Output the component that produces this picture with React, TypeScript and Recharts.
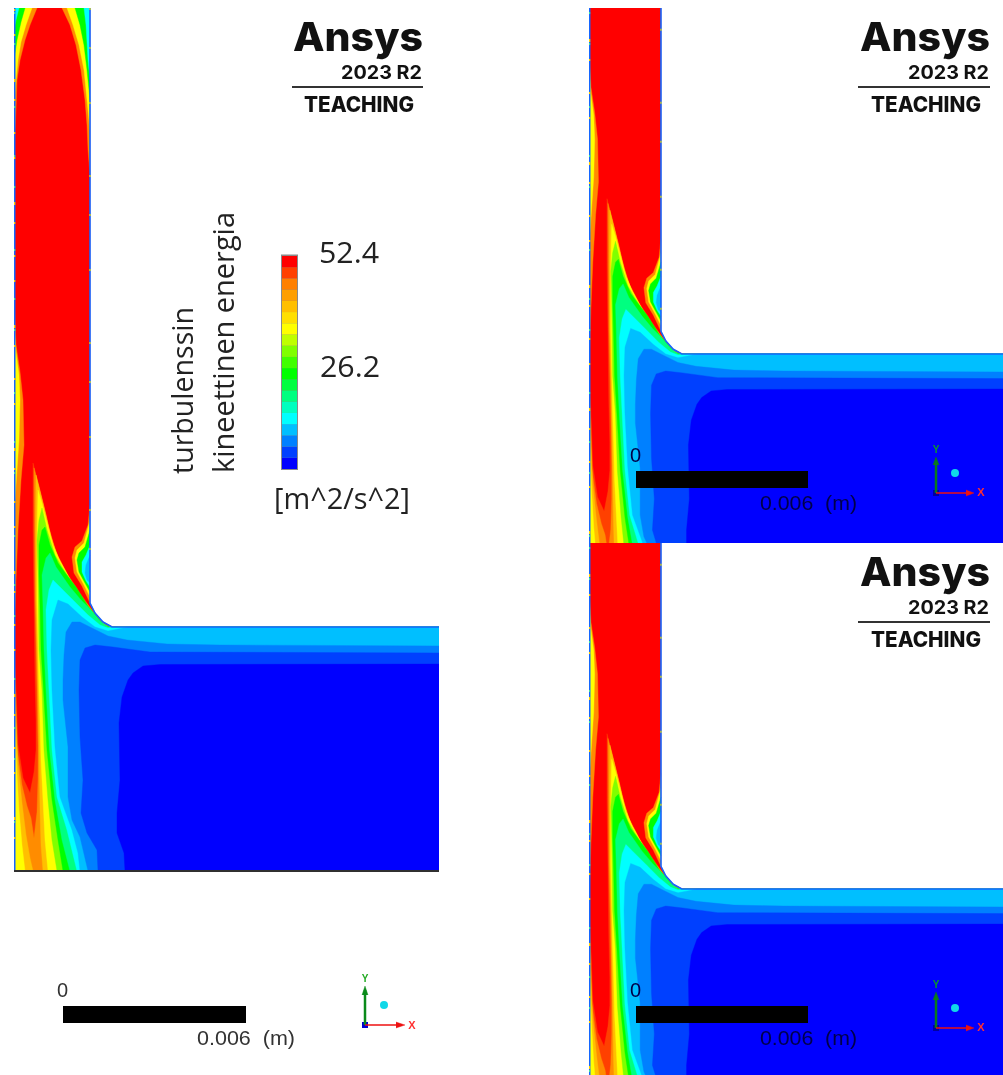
import React from "react";
import { ScatterChart, Scatter, XAxis, YAxis, ReferenceArea } from "recharts";

type Pt = [number, number];
const X_END = 460;

// field outline (read in the left panel's pixel frame)
const fluidDomain: Pt[] = [[14,8],[90,8],[90,603],[95,613],[103,622],[112,626.5],[460,627],[460,872],[14,872]];
const wallEdge: Pt[] = [[14.5,872],[14.5,8]];
const wallRight: Pt[] = [[90,8],[90,603],[95,613],[103,622],[112,627],[460,627]];
const wallRightUpper: Pt[] = [[90,8],[90,603]];
const floorLine: Pt[] = [[14,871],[460,871]];

// contour bands, hottest first
const redOrangeMain: Pt[] = [[14,871],[14,640],[16,690],[18,745],[23,778],[30,793],[34,772],[36,750],[36,720],[35,680],[34,600],[33,530],[33,463],[38,483],[44,507],[48,525],[55,550],[67,573],[80,593],[90,607],[96,616],[104,624],[112,627],[X_END,627],[X_END,871]];
const orangeMain: Pt[] = [[14,871],[14,655],[16,703],[17,748],[22,785],[27,806],[31,818],[34,838],[37,812],[38,780],[38,745],[37,690],[35,600],[34.5,530],[34,468],[39,487],[45,511],[49,528],[56,553],[68,576],[81,596],[91,609],[97,617],[105,625],[113,627],[X_END,627],[X_END,871]];
const amberMain: Pt[] = [[14,871],[14,672],[16,722],[18,765],[22,803],[26,835],[30,858],[33,871],[43,871],[41,845],[40,810],[39.5,780],[39,745],[38,690],[36,600],[35.5,530],[36,475],[41,495],[46,515],[51,537],[58,557],[69,578],[82,598],[92,611],[98,619],[106,626],[113,627],[X_END,627],[X_END,871]];
const yellowMain: Pt[] = [[14,871],[14,690],[15,730],[17,775],[19,810],[22,845],[25,871],[48,871],[45,840],[43,800],[41,760],[40,720],[39,690],[37,600],[37,530],[38,490],[42,503],[47,522],[53,545],[60,561],[71,581],[84,601],[93,613],[100,621],[108,627],[X_END,627],[X_END,871]];
const limeMain: Pt[] = [[57,871],[52,840],[48,800],[44,750],[42,690],[39,650],[38.5,607],[38,573],[37,540],[39,520],[42,508],[47,530],[55,555],[62,567],[73,584],[86,604],[95,615],[102,623],[109,627],[X_END,627],[X_END,871]];
const greenMain: Pt[] = [[63,871],[58,840],[52,800],[47,750],[43.5,690],[41,650],[40,607],[39,573],[39,545],[42,530],[45,527],[50,545],[58,563],[66,574],[76,587],[88,606],[97,617],[104,625],[110,627],[X_END,627],[X_END,871]];
const springMain: Pt[] = [[70,871],[62,840],[55,800],[49.5,750],[46,690],[44,650],[43,607],[42,575],[46,558],[50,553],[56,567],[70,587],[81,600],[91,610],[100,621],[108,627],[112,627],[X_END,627],[X_END,871]];
const cyanMain: Pt[] = [[77,871],[67,830],[57,797],[52,750],[49,690],[47,650],[46,610],[49,590],[53,580],[60,587],[75,602],[88,615],[100,625],[108,628],[118,627],[X_END,627],[X_END,871]];
const skyMain: Pt[] = [[80,871],[78,853],[72,830],[60,797],[55,747],[52,690],[51,650],[52,620],[58,600],[68,604],[82,617],[95,627],[108,631],[118,629],[128,627],[X_END,627],[X_END,871]];
const azureMain: Pt[] = [[88,871],[80,837],[72,820],[68,797],[68,747],[63,700],[63,680],[64,655],[66,632],[72,622],[80,622],[92,628],[108,636],[127,640],[167,644],[220,645],[X_END,646],[X_END,871]];
const blueMain: Pt[] = [[98,871],[97,850],[87,833],[81,813],[83,780],[80,737],[79,690],[80,660],[85,648],[95,645],[113,647],[150,652],[X_END,653],[X_END,871]];
const deepMain: Pt[] = [[125,871],[124,853],[117,833],[117,813],[120,780],[119,723],[122,697],[128,680],[133,673],[143,666],[160,664.5],[X_END,664],[X_END,871]];

// wall pocket above the corner
const pocketOrange: Pt[] = [[90,505],[88,525],[82,541],[75,547],[72,557],[74,573],[82,586],[90,603]];
const pocketYellow: Pt[] = [[90,520],[84,543],[77,550],[75,558],[77,572],[84,585],[90,597]];
const pocketGreen: Pt[] = [[90,530],[85,547],[79,553],[77,560],[79,572],[85,583],[90,592]];
const pocketCyan: Pt[] = [[90,545],[86,555],[82,562],[82,572],[86,581],[90,587]];
const pocketSky: Pt[] = [[90,555],[86,565],[85,573],[87,580],[90,583]];

// inlet corners
const topLeftOrange: Pt[] = [[14,8],[37,8],[30,25],[25,40],[20,60],[17,80],[16,110],[14,150]];
const topLeftYellow: Pt[] = [[14,8],[32,8],[26,25],[21,42],[18,60],[15.5,85],[14,110]];
const topLeftGreen: Pt[] = [[14,8],[25,8],[21,22],[17,40],[14,60]];
const topLeftCyan: Pt[] = [[14,8],[19,8],[16,20],[14,30]];
const topRightOrange: Pt[] = [[90,8],[62,8],[70,25],[76,45],[81,70],[85,100],[87,125],[88,150],[90,175]];
const topRightYellow: Pt[] = [[90,8],[67,8],[73,25],[79,45],[84,70],[87,100],[90,130]];
const topRightGreen: Pt[] = [[90,8],[75,8],[80,25],[84,45],[87,70],[90,100]];
const topRightCyan: Pt[] = [[90,8],[84,8],[86,25],[88,60],[90,80]];

// warm tongue on the left wall
const sideOrange: Pt[] = [[14,300],[16,345],[20,372],[23,400],[24,445],[21,480],[18,530],[16,580],[14,640]];
const sideYellow: Pt[] = [[14,320],[16,352],[19,375],[20,400],[19,440],[17,470],[15,500],[14,520]];

const bandLayers: [string, Pt[][]][] = [
  ["#ff4000", [redOrangeMain]],
  ["#ff8c00", [orangeMain, pocketOrange, topLeftOrange, topRightOrange, sideOrange]],
  ["#ffbf00", [amberMain]],
  ["#ffff00", [yellowMain, pocketYellow, topLeftYellow, topRightYellow, sideYellow]],
  ["#80ff00", [limeMain]],
  ["#00ff00", [greenMain, pocketGreen, topLeftGreen, topRightGreen]],
  ["#00ff80", [springMain]],
  ["#00ffff", [cyanMain, pocketCyan, topLeftCyan, topRightCyan]],
  ["#00bfff", [skyMain, pocketSky]],
  ["#0080ff", [azureMain]],
  ["#0040ff", [blueMain]],
  ["#0000ff", [deepMain]],
];

// colour bar, bottom to top
const legendColors = ["#0000ff","#0040ff","#0080ff","#00bfff","#00ffff","#00ffbf","#00ff80","#00ff40","#00ff00","#40ff00","#80ff00","#bfff00","#ffff00","#ffdf00","#ffbf00","#ff9f00","#ff8000","#ff4000","#ff0000"];
const legendBottom = 469;
const legendTop = 256;
const legendTicks = ["52.4", "26.2"];
const titleLines = ["turbulenssin", "kineettinen energia"];
const unitLabel = "[m^2/s^2]";

const logoOffsets: Pt[] = [[0,0],[567,0],[567,535]];
const scaleBars: { x1: number; x2: number; y1: number; y2: number }[] = [
  { x1: 63, x2: 246, y1: 1006, y2: 1023 },
  { x1: 636, x2: 808, y1: 471, y2: 488 },
  { x1: 636, x2: 808, y1: 1006, y2: 1023 },
];

const toRows = (p: Pt[]) => p.map(([x, y]) => ({ x, y }));
const noMark = () => <g />;

const poly = (key: string, pts: Pt[], fill: string) => (
  <Scatter key={key} data={toRows(pts)} dataKey="y" fill={fill} isAnimationActive={false} legendType="none"
    shape={noMark} line={{ stroke: fill, strokeWidth: 0.4, fill }} />
);
const stroke = (key: string, pts: Pt[], color: string, w: number, dash?: string) => (
  <Scatter key={key} data={toRows(pts)} dataKey="y" fill={color} isAnimationActive={false} legendType="none"
    shape={noMark} line={{ stroke: color, strokeWidth: w, fill: "none", strokeDasharray: dash }} />
);

function FieldPanel({ left, top, width, height, xDomain, yDomain }: { left: number; top: number; width: number; height: number; xDomain: Pt; yDomain: Pt }) {
  return (
    <div style={{ position: "absolute", left, top, width, height, overflow: "hidden" }}>
      <div style={{ filter: "blur(0.7px)" }}>
        <ScatterChart width={width} height={height} margin={{ top: 0, right: 0, bottom: 0, left: 0 }}>
          <XAxis type="number" dataKey="x" domain={xDomain} allowDataOverflow hide />
          <YAxis type="number" dataKey="y" domain={yDomain} allowDataOverflow reversed hide />
          {poly("domain", fluidDomain, "#ff0000")}
          {bandLayers.flatMap(([color, shapes], i) => shapes.map((s, j) => poly(`b${i}-${j}`, s, color)))}
          {stroke("wl", wallEdge, "#1466ff", 2)}
          {stroke("wr", wallRight, "#1466ff", 1.6)}
          {stroke("s1", wallEdge, "#ffd000", 1.5, "2 31 2 17 3 43 2 23")}
          {stroke("s2", wallEdge, "#40e0a0", 1.5, "2 47 2 61 2 29")}
          {stroke("s3", wallRightUpper, "#e8e800", 1.2, "2 37 2 53 2 71")}
          {stroke("floor", floorLine, "#303030", 2)}
        </ScatterChart>
      </div>
    </div>
  );
}

const Logo = ({ dx, dy }: { dx: number; dy: number }) => (
  <g fill="#111" fontFamily="Inter, Roboto, sans-serif">
    <text x={293 + dx} y={51} transform={`translate(0 ${dy})`} fontSize={40} fontWeight={800} textLength={130} lengthAdjust="spacingAndGlyphs">Ansys</text>
    <text x={341 + dx} y={79} transform={`translate(0 ${dy})`} fontSize={19} fontWeight={700} textLength={81} lengthAdjust="spacingAndGlyphs">2023 R2</text>
    <text x={304 + dx} y={112} transform={`translate(0 ${dy})`} fontSize={21} fontWeight={800} textLength={110} lengthAdjust="spacingAndGlyphs">TEACHING</text>
  </g>
);

const Triad = ({ ox, oy, y, x, dot, dim }: { ox: number; oy: number; y: Pt; x: Pt; dot: Pt; dim?: boolean }) => (
  <g>
    <text x={y[0]} y={y[1] + 4} textAnchor="middle" fontSize={10} fontWeight={700} fontFamily="Liberation Sans" fill={dim ? "#0a9a2a" : "#22aa22"}>Y</text>
    <text x={x[0]} y={x[1] + 4} textAnchor="middle" fontSize={11} fontWeight={700} fontFamily="Liberation Sans" fill="#ff3030">X</text>
    <circle cx={dot[0]} cy={dot[1]} r={4} fill="#10d8e8" />
    <rect x={ox - 3} y={oy - 3} width={6} height={6} fill={dim ? "#0000a0" : "#0000d0"} />
  </g>
);

const triadLines: { v: Pt[]; h: Pt[]; vh: Pt[]; hh: Pt[]; vc: string }[] = [
  { v: [[365,1025],[365,990]], h: [[365,1025],[396,1025]], vh: [[362,995],[365,986],[368,995]], hh: [[396,1022],[405,1025],[396,1028]], vc: "#0a8a1a" },
  { v: [[936,493],[936,461]], h: [[936,493],[966,493]], vh: [[933,465],[936,457],[939,465]], hh: [[966,490],[974,493],[966,496]], vc: "#0a7a1a" },
  { v: [[936,1028],[936,996]], h: [[936,1028],[966,1028]], vh: [[933,1000],[936,992],[939,1000]], hh: [[966,1025],[974,1028],[966,1031]], vc: "#0a7a1a" },
];

const sans = "Liberation Sans, Arial, sans-serif";
const humanist = "Open Sans, sans-serif";
const legendStep = (legendBottom - legendTop) / legendColors.length;

export default function App() {
  return (
    <div style={{ position: "absolute", left: 0, top: 0, width: 1003, height: 1075, background: "#fff", overflow: "hidden" }}>
      <FieldPanel left={14} top={8} width={425} height={864} xDomain={[14, 439]} yDomain={[8, 872]} />
      <FieldPanel left={589} top={8} width={414} height={535} xDomain={[14, 451.2]} yDomain={[261.6, 826.6]} />
      <FieldPanel left={589} top={543} width={414} height={532} xDomain={[14, 451.2]} yDomain={[261.6, 823.4]} />
      <div style={{ position: "absolute", left: 0, top: 0, filter: "blur(0.45px)" }}>
        <ScatterChart width={1003} height={1075} margin={{ top: 0, right: 0, bottom: 0, left: 0 }}>
          <XAxis type="number" dataKey="x" domain={[0, 1003]} allowDataOverflow hide />
          <YAxis type="number" dataKey="y" domain={[0, 1075]} allowDataOverflow reversed hide />
          <ReferenceArea x1={281} x2={298} y1={legendTop - 1.5} y2={legendBottom + 1} fill="#8a8a8a" fillOpacity={1} stroke="none" />
          {legendColors.map((c, i) => (
            <ReferenceArea key={c} x1={282} x2={297} y1={legendBottom - (i + 1) * legendStep} y2={legendBottom - i * legendStep} fill={c} fillOpacity={1} stroke="none" />
          ))}
          {scaleBars.map((b) => (
            <ReferenceArea key={`${b.x1}-${b.y1}`} x1={b.x1} x2={b.x2} y1={b.y1} y2={b.y2} fill="#000" fillOpacity={1} stroke="none" />
          ))}
          {logoOffsets.map(([dx, dy]) => stroke(`rule${dx}-${dy}`, [[292 + dx - (dx ? 1 : 0), 87 + dy], [423 + dx, 87 + dy]], "#333", 2))}
          {triadLines.flatMap((t, i) => [
            stroke(`v${i}`, t.v, t.vc, 2.5),
            stroke(`h${i}`, t.h, "#ee1111", 1.5),
            poly(`vh${i}`, t.vh, t.vc),
            poly(`hh${i}`, t.hh, "#ee1111"),
          ])}
          {logoOffsets.map(([dx, dy]) => <Logo key={`${dx}-${dy}`} dx={dx} dy={dy} />)}
          <g fill="#222" fontFamily={humanist}>
            <text x={319} y={263} fontSize={29} textLength={60} lengthAdjust="spacingAndGlyphs">{legendTicks[0]}</text>
            <text x={320} y={377} fontSize={29} textLength={60} lengthAdjust="spacingAndGlyphs">{legendTicks[1]}</text>
            <text x={274} y={509} fontSize={29} textLength={136} lengthAdjust="spacingAndGlyphs">{unitLabel}</text>
            <text transform="translate(193 474) rotate(-90)" fontSize={29} textLength={167} lengthAdjust="spacingAndGlyphs">{titleLines[0]}</text>
            <text transform="translate(234 473) rotate(-90)" fontSize={29} textLength={261} lengthAdjust="spacingAndGlyphs">{titleLines[1]}</text>
          </g>
          <g fontFamily={sans} fontSize={20}>
            <text x={57} y={997} fill="#333">0</text>
            <text x={197} y={1045} fill="#333" textLength={98} lengthAdjust="spacingAndGlyphs" xmlSpace="preserve">0.006  (m)</text>
            <text x={630} y={462} fill="#00004a">0</text>
            <text x={760} y={510} fill="#00004a" textLength={97} lengthAdjust="spacingAndGlyphs" xmlSpace="preserve">0.006  (m)</text>
            <text x={630} y={997} fill="#00004a">0</text>
            <text x={760} y={1045} fill="#00004a" textLength={97} lengthAdjust="spacingAndGlyphs" xmlSpace="preserve">0.006  (m)</text>
          </g>
          <Triad ox={365} oy={1025} y={[365, 978]} x={[412, 1025]} dot={[384, 1005]} />
          <Triad ox={936} oy={493} y={[936, 449]} x={[981, 492]} dot={[955, 473]} dim />
          <Triad ox={936} oy={1028} y={[936, 984]} x={[981, 1027]} dot={[955, 1008]} dim />
        </ScatterChart>
      </div>
    </div>
  );
}
